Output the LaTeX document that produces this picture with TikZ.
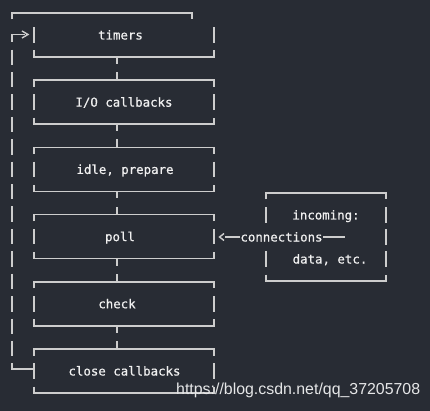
\documentclass[tikz,border=0pt]{standalone}
\usepackage{fontspec}
\setmonofont[FakeBold=0.6]{DejaVu Sans Mono}
\newfontfamily\wmfont{Liberation Sans}
\definecolor{bg}{RGB}{40,44,52}
\definecolor{lc}{RGB}{205,205,205}
\definecolor{tc}{RGB}{240,240,240}
\begin{document}
\begin{tikzpicture}[x=1pt,y=-1pt,
  ln/.style={draw=lc,line width=1.4pt},
  lbl/.style={text=tc,font=\ttfamily\fontsize{12.4}{14}\selectfont,inner sep=0pt,anchor=base}]
\fill[bg] (0,0) rectangle (430,411);
\useasboundingbox (0,0) rectangle (430,411);
% outer top line
\draw[ln] (12,19.5) -- (12,13) -- (192,13) -- (192,19.5);
% loop: corner + arrow
\draw[ln] (12,42) -- (12,34.5) -- (25,34.5);
\draw[ln] (22,31) -- (28,34.5) -- (22,38);
\foreach \k in {1,...,14} {
  \draw[ln] (12,{35+22.4*\k-7.7}) -- (12,{35+22.4*\k+7.7});
}
\draw[ln] (12,{371-7.7}) -- (12,369) -- (34,369);
% boxes
\foreach \yc/\tx/\nm [count=\i] in {35/120.5/timers, 102.2/124/io, 169.4/125/idle, 236.6/120/poll, 303.8/117/check, 371/124.5/close} {
  \draw[ln] (34,{\yc-7.7}) -- (34,{\yc+7.7});
  \draw[ln] (214,{\yc-7.7}) -- (214,{\yc+7.7});
  \draw[ln] (34,{\yc+15.5}) -- (34,{\yc+22}) -- (214,{\yc+22}) -- (214,{\yc+15.5});
  \ifnum\i>1
    \draw[ln] (34,{\yc-15.5}) -- (34,{\yc-22}) -- (214,{\yc-22}) -- (214,{\yc-15.5});
    \draw[ln] (117,{\yc-22}) -- (117,{\yc-30});
  \fi
  \ifnum\i<6
    \draw[ln] (117,{\yc+22}) -- (117,{\yc+29});
  \fi
}
\node[lbl] (timers) at (120.5,39.5) {timers};
\node[lbl] (io) at (124,106.7) {I/O callbacks};
\node[lbl] (idle) at (125,173.9) {idle, prepare};
\node[lbl] (poll) at (120,241.1) {poll};
\node[lbl] (check) at (117,308.3) {check};
\node[lbl] (close) at (124.5,375.5) {close callbacks};
% incoming box
\draw[ln] (266,199.5) -- (266,193) -- (386,193) -- (386,199.5);
\draw[ln] (266,274.5) -- (266,281) -- (386,281) -- (386,274.5);
\foreach \yr in {215,259} \draw[ln] (266,{\yr-7.7}) -- (266,{\yr+7.7});
\foreach \yr in {215,237,259} \draw[ln] (386,{\yr-7.7}) -- (386,{\yr+7.7});
\node[lbl] (inc) at (326,219.5) {incoming:};
\node[lbl] (data) at (330,263.5) {data, etc.};
\node[lbl] (conn) at (281.5,241.5) {connections};
\draw[ln] (conn.west |- 0,237) -- (225,237);
\draw[ln] (224,233.5) -- (219.5,237) -- (224,240.5);
\draw[ln] (conn.east |- 0,237) -- (345,237);
% watermark
\node[text=white!88!bg,font=\wmfont\fontsize{15.9}{18}\selectfont,inner sep=0pt,anchor=west] (wm) at (176,390) {https://blog.csdn.net/qq\_37205708};
\end{tikzpicture}
\end{document}
